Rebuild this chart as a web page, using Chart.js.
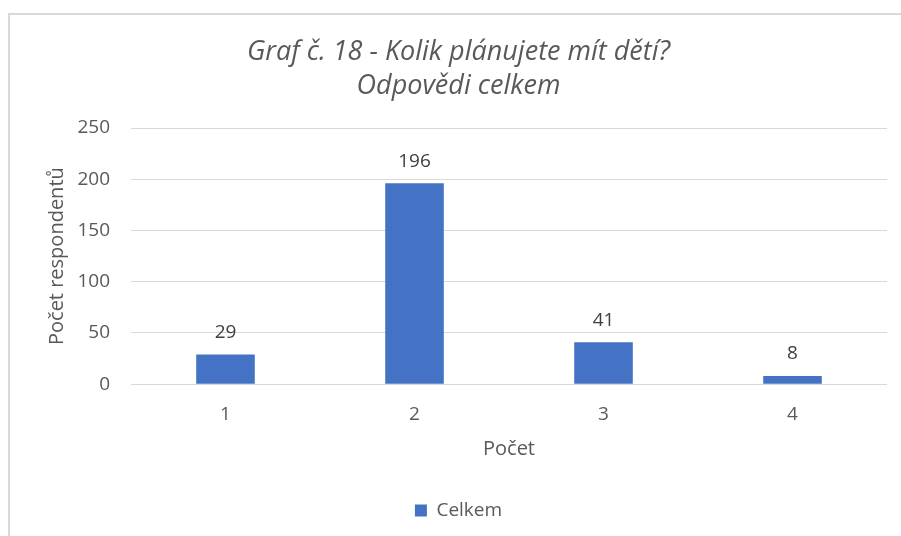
<!DOCTYPE html>
<html>
<head>
<meta charset="utf-8">
<script src="https://cdn.jsdelivr.net/npm/chart.js@4"></script>
<style>
  html, body { margin: 0; padding: 0; overflow: hidden; background: #fff; }
  #box {
    position: absolute; left: 8px; top: 13px;
    width: 900px; height: 530px;
    border: 2px solid #d9d9d9;
  }
</style>
</head>
<body>
<div id="box"><canvas id="chart" width="900" height="530"></canvas></div>
<script>
// data
const categories = ["1", "2", "3", "4"];
const counts = [29, 196, 41, 8];
const seriesName = "Celkem";
const titleLines = ["Graf č. 18 - Kolik plánujete mít dětí?", "Odpovědi celkem"];

const grey = "#595959";
const fontFamily = "'Open Sans', 'Noto Sans', sans-serif";

// value labels over the bars
const barLabels = {
  id: "barLabels",
  afterDatasetsDraw(chart) {
    const ctx = chart.ctx;
    const meta = chart.getDatasetMeta(0);
    ctx.save();
    ctx.font = "19px " + fontFamily;
    ctx.fillStyle = "#404040";
    ctx.textAlign = "center";
    ctx.textBaseline = "middle";
    meta.data.forEach(function (bar, i) {
      ctx.fillText(String(counts[i]), bar.x, bar.y - 22);
    });
    ctx.restore();
  },
};

const ctx = document.getElementById("chart").getContext("2d");

new Chart(ctx, {
  type: "bar",
  data: {
    labels: categories,
    datasets: [
      {
        label: seriesName,
        data: counts,
        backgroundColor: "#4472c4",
        categoryPercentage: 1,
        barPercentage: 0.31,
      },
    ],
  },
  options: {
    responsive: false,
    animation: false,
    layout: { padding: { left: 20, right: 23, top: 0, bottom: 15 } },
    plugins: {
      title: {
        display: true,
        text: titleLines,
        color: grey,
        font: { family: fontFamily, size: 27, style: "italic", weight: "normal", lineHeight: 1.26 },
        padding: { top: 20, bottom: 25 },
      },
      legend: {
        position: "bottom",
        labels: {
          color: grey,
          font: { family: fontFamily, size: 19 },
          boxWidth: 12,
          boxHeight: 12,
        },
      },
      tooltip: { enabled: false },
    },
    scales: {
      x: {
        grid: { display: false },
        border: { display: false },
        ticks: { color: grey, font: { family: fontFamily, size: 19 }, padding: 11 },
        title: {
          display: true,
          text: "Počet",
          color: grey,
          font: { family: fontFamily, size: 20 },
          padding: { top: 0, bottom: 30 },
        },
      },
      y: {
        min: 0,
        max: 250,
        ticks: { stepSize: 50, color: grey, font: { family: fontFamily, size: 19 }, padding: 21 },
        grid: { color: "#d9d9d9", drawTicks: false },
        border: { display: false },
        title: {
          display: true,
          text: "Počet respondentů",
          color: grey,
          font: { family: fontFamily, size: 20 },
          padding: { top: 15, bottom: 0 },
        },
        afterFit(scale) {
          scale.width = 101;
        },
      },
    },
  },
  plugins: [barLabels],
});
</script>
</body>
</html>
